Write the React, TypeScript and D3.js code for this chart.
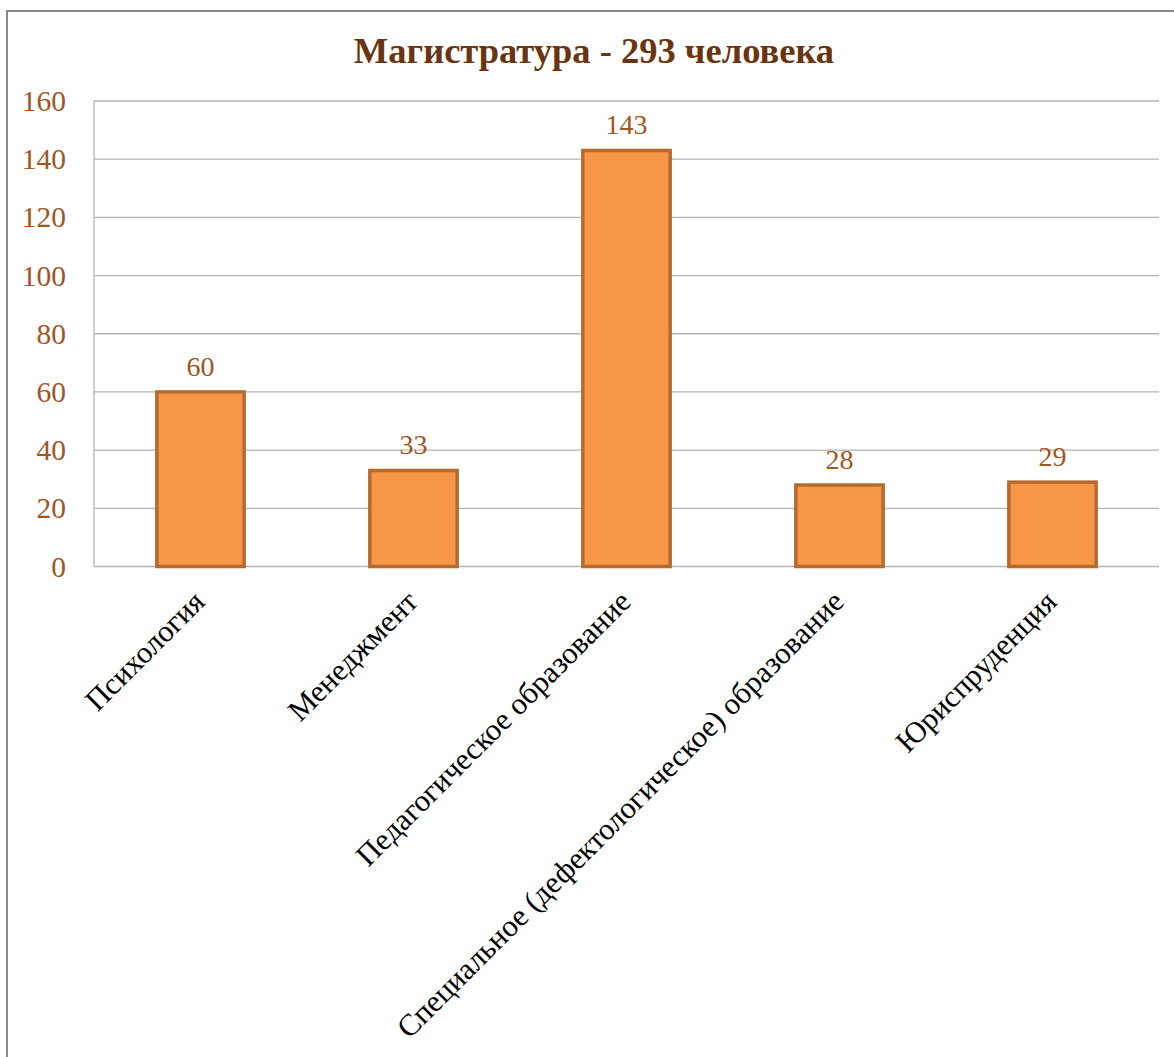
import React from "react";
import * as d3 from "d3";

const categories = [
  "Психология",
  "Менеджмент",
  "Педагогическое образование",
  "Специальное (дефектологическое) образование",
  "Юриспруденция",
];
const values = [60, 33, 143, 28, 29];
const yTicks = [0, 20, 40, 60, 80, 100, 120, 140, 160];
const title = "Магистратура - 293 человека";

export default function App() {
  const W = 1174;
  const H = 1057;
  const left = 94;
  const right = 1159;
  const top = 101;
  const bottom = 566.5;

  const x = d3.scaleBand<string>().domain(categories).range([left, right]).paddingInner(0.59).paddingOuter(0.295);
  const y = d3.scaleLinear().domain([0, 160]).range([bottom, top]);
  const band = (right - left) / categories.length;
  const font = "Liberation Serif, DejaVu Serif, serif";

  return (
    <svg width={W} height={H} style={{ position: "absolute", left: 0, top: 0 }}>
      <rect x={0} y={0} width={W} height={H} fill="#fff" />
      <rect x={7} y={11} width={W + 20} height={H + 20} fill="none" stroke="#898989" strokeWidth={2} />
      <text x={594} y={63} textAnchor="middle" fontFamily={font} fontWeight="bold" fontSize={36.5} fill="#6B3410">
        {title}
      </text>
      {yTicks.map((t) => (
        <g key={t}>
          <line x1={left} x2={right} y1={y(t)} y2={y(t)} stroke="#B5B5B5" strokeWidth={1.3} />
          <text x={66} y={y(t) + 10} textAnchor="end" fontFamily={font} fontSize={29.5} fill="#A0561F">
            {t}
          </text>
        </g>
      ))}
      <line x1={left} x2={left} y1={top} y2={bottom} stroke="#B5B5B5" strokeWidth={1.3} />
      {categories.map((c, i) => {
        const bx = x(c) as number;
        const bw = x.bandwidth();
        const cx = left + band * (i + 0.5);
        return (
          <g key={c}>
            <rect x={bx} y={y(values[i])} width={bw} height={bottom - y(values[i])} fill="#F79646" stroke="#B56A30" strokeWidth={3.5} />
            <text x={cx} y={y(values[i]) - 16} textAnchor="middle" fontFamily={font} fontSize={28} fill="#A0561F">
              {values[i]}
            </text>
            <text
              transform={`translate(${cx + 6},${bottom + 37}) rotate(-45)`}
              textAnchor="end"
              fontFamily={font}
              fontSize={30.5}
              fill="#000"
            >
              {c}
            </text>
          </g>
        );
      })}
    </svg>
  );
}
